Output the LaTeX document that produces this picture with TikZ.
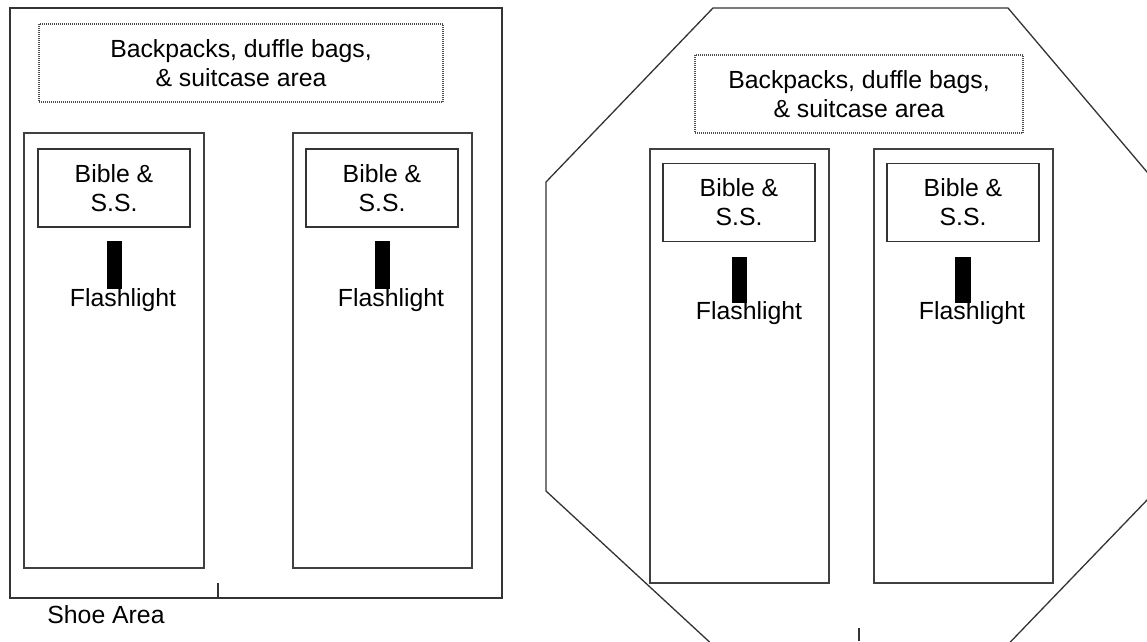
\documentclass[tikz,border=0pt]{standalone}
\usepackage{fontspec}
\setmainfont{Liberation Sans}
\begin{document}
\begin{tikzpicture}[x=1pt,y=-1pt,font=\fontsize{24.8}{28.8}\selectfont,
  wall/.style={draw=black!80,line width=1.3pt},
  locker/.style={draw=black!75,line width=1.6pt},
  bagarea/.style={draw=black!70,line width=1.1pt,dash pattern=on 1pt off 1pt,align=center,inner sep=0pt},
  shelf/.style={draw=black!80,line width=1.5pt,align=center,inner sep=0pt,minimum width=152,minimum height=78},
  lamp/.style={fill=black}]
\useasboundingbox (0,0) rectangle (1147,641);
\clip (0,0) rectangle (1147,641);
% left room
\draw[wall] (10,8) rectangle (502,598);
\draw[wall] (218,583)--(218,598);
\node[bagarea,minimum width=404,minimum height=78] (bagsL) at (241,63) {Backpacks, duffle bags,\\\& suitcase area};
\draw[locker] (24,133) rectangle (204,568);
\node[shelf] (bibleLA) at (114,188) {Bible \&\\S.S.};
\fill[lamp] (107,241) rectangle (122,289);
\node[anchor=base] (lightLA) at (123,306) {Flashlight};
\draw[locker] (293,133) rectangle (472,568);
\node[shelf] (bibleLB) at (382,188) {Bible \&\\S.S.};
\fill[lamp] (375,241) rectangle (390,289);
\node[anchor=base] (lightLB) at (391,306) {Flashlight};
\node[anchor=base] (shoes) at (106,623) {Shoe Area};
% right room
\draw[wall] (713,8)--(1008,8)--(1175,205)--(1175,471)--(993,660)--(729,660)--(546,491)--(546,182)--cycle;
\draw[wall] (859,628)--(859,641);
\node[bagarea,minimum width=328,minimum height=78] (bagsR) at (859,94) {Backpacks, duffle bags,\\\& suitcase area};
\draw[locker] (650,149) rectangle (829,583);
\node[shelf] (bibleRA) at (739,202.5) {Bible \&\\S.S.};
\fill[lamp] (732,257) rectangle (747,303);
\node[anchor=base] (lightRA) at (749,319) {Flashlight};
\draw[locker] (874,149) rectangle (1053,583);
\node[shelf] (bibleRB) at (963,202.5) {Bible \&\\S.S.};
\fill[lamp] (955,257) rectangle (971,303);
\node[anchor=base] (lightRB) at (972,319) {Flashlight};
\end{tikzpicture}
\end{document}
